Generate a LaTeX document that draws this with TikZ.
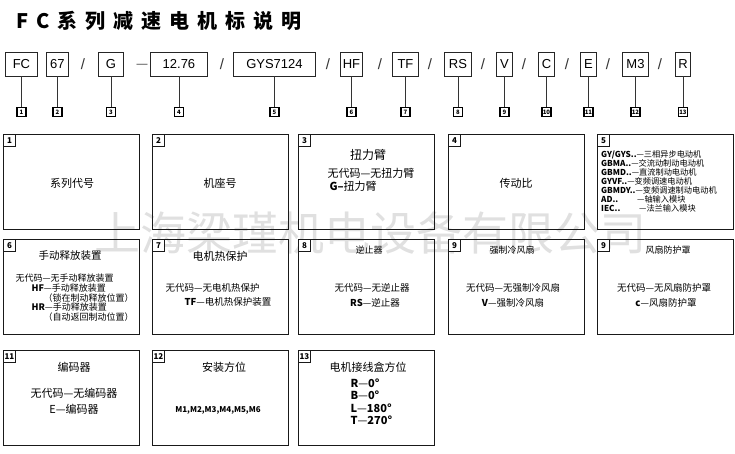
\documentclass[tikz,border=0pt]{standalone}
\usepackage{fontspec}
\setmainfont{Noto Sans CJK SC}
\newfontfamily\latinfont{Liberation Sans}
\newfontfamily\titlefont[LetterSpace=40]{Noto Sans CJK SC}
\usetikzlibrary{positioning}

\begin{document}
\begin{tikzpicture}[
        x=1pt, y=-1pt,
        codebox/.style={draw=black!85, line width=0.9pt, minimum height=24pt, inner sep=0pt, anchor=west, font=\latinfont\fontsize{13}{13}\selectfont},
        sepmark/.style={font=\latinfont\fontsize{15}{15}\selectfont, text=black!80},
        numbox/.style={draw=black, line width=1.1pt, minimum width=9pt, minimum height=9pt, inner sep=0pt, font=\bfseries\fontsize{6}{6}\selectfont},
        link/.style={draw=black!80, line width=0.8pt},
        panel/.style={draw=black!90, line width=1pt, minimum width=136pt, minimum height=95pt, anchor=north west, inner sep=0pt},
        tab/.style={draw=black!90, fill=white, line width=0.9pt, anchor=north west, minimum width=12pt, minimum height=12pt, inner sep=1pt, font=\bfseries\fontsize{8}{8}\selectfont},
        head/.style={font=\fontsize{11}{13}\selectfont},
        headsm/.style={font=\fontsize{9}{11}\selectfont},
        line/.style={font=\fontsize{9.5}{11}\selectfont},
        linesm/.style={font=\fontsize{9}{10}\selectfont},
    ]
    \useasboundingbox (0,0) rectangle (735,453);

    % 水印
    \node[font=\fontsize{46}{46}\selectfont, text=black!12] (mark) at (370,233) {上海梁瑾机电设备有限公司};

    % 标题
    \node[anchor=west, font=\titlefont\bfseries\fontsize{20}{20}\selectfont] (title) at (13,21) {FC系列减速电机标说明};

    % 型号代码
    \coordinate (numrow) at (0,112);
    \foreach \i/\xl/\w/\t in {1/5/32/FC, 2/46/22/67, 3/98/25/G, 4/150/57/12.76, 5/233/82/GYS7124,
            6/340/22/HF, 7/392/26/TF, 8/444/27/RS, 9/496/16/V, 10/538/16/C, 11/580/16/E, 12/622/26/M3, 13/675/15/R} {
            \node[codebox, minimum width=\w pt] (c\i) at (\xl,64) {\t};
            \node[numbox] (n\i) at (c\i.south |- numrow) {\i};
            \draw[link] (c\i) -- (n\i);
        }
    \foreach \j/\x in {1/83, 2/222, 3/328, 4/380, 5/430, 6/483, 7/524, 8/567, 9/608, 10/660}
    \node[sepmark] (s\j) at (\x,64) {/};
    \node[sepmark, font=\latinfont\fontsize{11}{11}\selectfont] (dash) at (142,66) {—};

    % 说明框
    \foreach \i/\x/\y/\t in {1/3/134/1, 2/152/134/2, 3/298/134/3, 4/448/134/4, 5/597/134/5,
            6/3/239/6, 7/152/239/7, 8/298/239/8, 9/448/239/9, 10/597/239/9,
            11/3/350/11, 12/152/350/12, 13/298/350/13} {
            \node[panel] (p\i) at (\x,\y) {};
            \node[tab] (tab\i) at (p\i.north west) {\t};
        }

    % 第一行
    \node[head] (t1) at (72,183) {系列代号};
    \node[head] (t2) at (220,183) {机座号};
    \node[font=\fontsize{12}{14}\selectfont] (t3a) at (368,155) {扭力臂};
    \node[head] (t3b) at (371,173) {无代码—无扭力臂};
    \node[head, anchor=west] (t3c) at (326,186) {{\bfseries G--}扭力臂};
    \node[head] (t4) at (516,183) {传动比};
    \node[anchor=north west, align=left, inner sep=0pt, font=\fontsize{8.2}{9}\selectfont] (t5) at (601,150.5) {%
        {\bfseries GY/GYS..}—三相异步电动机\\
        {\bfseries GBMA..}—交流动制动电动机\\
        {\bfseries GBMD..}—直流制动电动机\\
        {\bfseries GYVF..}—变频调速电动机\\
        {\bfseries GBMDY..}—变频调速制动电动机\\
        \makebox[36pt][l]{\bfseries AD..}—轴输入模块\\
        \makebox[38pt][l]{\bfseries IEC..}—法兰输入模块};

    % 第二行
    \node[font=\fontsize{10.5}{12}\selectfont] (t6) at (70,256) {手动释放装置};
    \node[linesm, anchor=west] (t6a) at (12,278) {无代码—无手动释放装置};
    \node[linesm, anchor=west] (t6b) at (28,288) {{\bfseries HF}—手动释放装置};
    \node[linesm, anchor=west] (t6c) at (40,298) {（锁在制动释放位置）};
    \node[linesm, anchor=west] (t6d) at (28,307) {{\bfseries HR}—手动释放装置};
    \node[linesm, anchor=west] (t6e) at (40,317) {（自动返回制动位置）};

    \node[head] (t7) at (220,256) {电机热保护};
    \node[line, anchor=west] (t7a) at (162,288) {无代码—无电机热保护};
    \node[line, anchor=west] (t7b) at (181,302) {{\bfseries TF}—电机热保护装置};

    \node[headsm] (t8) at (369,250) {逆止器};
    \node[line] (t8a) at (372,288) {无代码—无逆止器};
    \node[line] (t8b) at (375,303) {{\bfseries RS}—逆止器};

    \node[headsm] (t9) at (512,250) {强制冷风扇};
    \node[line] (t9a) at (513,288) {无代码—无强制冷风扇};
    \node[line] (t9b) at (513,303) {{\bfseries V}—强制冷风扇};

    \node[headsm] (t10) at (668,250) {风扇防护罩};
    \node[line] (t10a) at (664,288) {无代码—无风扇防护罩};
    \node[line] (t10b) at (666,303) {{\bfseries c}—风扇防护罩};

    % 第三行
    \node[head] (t11) at (74,367) {编码器};
    \node[head] (t11a) at (74,393) {无代码—无编码器};
    \node[head] (t11b) at (74,409) {E—编码器};

    \node[head] (t12) at (224,367) {安装方位};
    \node[font=\bfseries\fontsize{8}{10}\selectfont] (t12a) at (218,410) {M1,M2,M3,M4,M5,M6};

    \node[head] (t13) at (368,367) {电机接线盒方位};
    \node[head, anchor=west] (t13a) at (347,383) {{\bfseries R}—{\bfseries 0°}};
    \node[head, anchor=west] (t13b) at (347,395) {{\bfseries B}—{\bfseries 0°}};
    \node[head, anchor=west] (t13c) at (347,408) {{\bfseries L}—{\bfseries 180°}};
    \node[head, anchor=west] (t13d) at (347,420) {{\bfseries T}—{\bfseries 270°}};

\end{tikzpicture}
\end{document}
